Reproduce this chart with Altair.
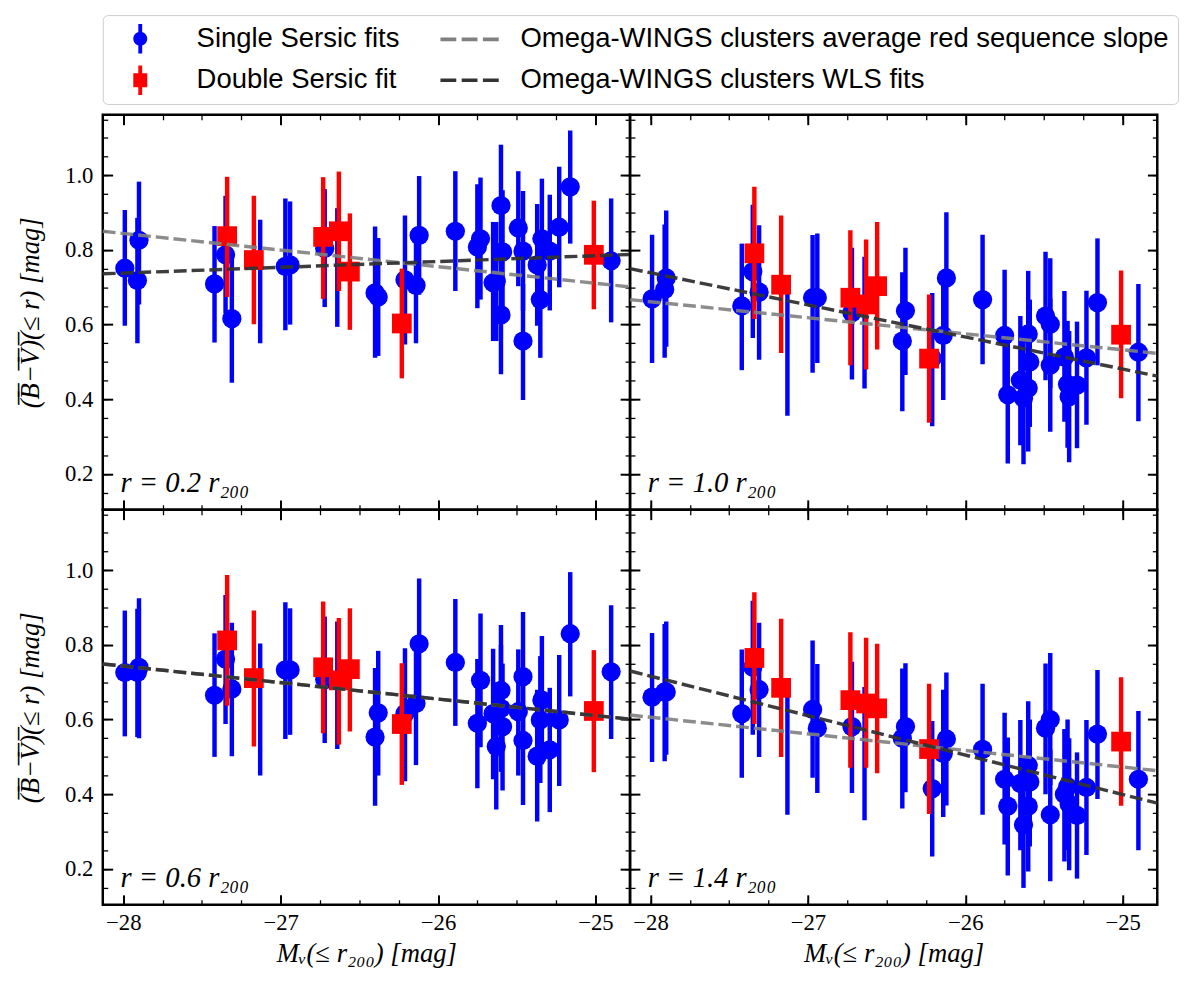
import altair as alt
import pandas as pd

# ---------------- data ----------------
gal_x = [-27.99, -27.90, -27.91, -27.42, -27.35, -27.31, -27.13, -26.97, -26.94, -26.72,
         -26.64, -26.40, -26.38, -26.21, -26.12, -26.14, -25.89, -25.75, -25.73, -25.65,
         -25.63, -25.60, -25.59, -25.60, -25.49, -25.46, -25.46, -25.37, -25.34, -25.35,
         -25.29, -25.23, -25.16, -24.90]

# r = 0.2 r200
tl_v = [0.751, 0.826, 0.718, 0.709, 0.787, 0.616, None, 0.756, 0.760, 0.804, None, 0.685, 0.674, 0.720,
        0.839, 0.705, 0.850, 0.808, 0.830, 0.712, 0.716, 0.919, 0.795, 0.626, 0.859, 0.797, 0.556,
        0.760, 0.830, 0.667, 0.797, 0.861, 0.969, 0.771]
tl_lo = [0.597, 0.654, 0.550, 0.552, 0.630, 0.444, 0.550, 0.585, 0.600, 0.647, 0.594, 0.511, 0.516, 0.547,
         0.680, 0.550, 0.690, 0.644, 0.667, 0.556, 0.556, 0.760, 0.630, 0.467, 0.703, 0.637, 0.398,
         0.597, 0.670, 0.511, 0.638, 0.700, 0.817, 0.606]
tl_hi = [0.907, 0.983, 0.886, 0.864, 0.945, 0.790, 0.881, 0.938, 0.930, 0.963, 0.912, 0.863, 0.832, 0.892,
         0.998, 0.860, 1.011, 0.976, 0.994, 0.875, 0.875, 1.082, 0.960, 0.785, 1.011, 0.958, 0.710,
         0.923, 0.991, 0.820, 0.948, 1.023, 1.120, 0.938]
# r = 1.0 r200
tr_v = [0.669, 0.725, 0.694, 0.650, 0.742, 0.687, None, 0.672, 0.672, 0.632, None, 0.556, 0.637, 0.510,
        0.725, 0.571, 0.667, 0.571, 0.412, 0.451, 0.403, 0.575, 0.500, 0.430, 0.623, 0.601, 0.491,
        0.513, 0.407, 0.440, 0.438, 0.511, 0.659, 0.526]
tr_lo = [0.497, 0.541, 0.511, 0.478, 0.564, 0.506, 0.356, 0.471, 0.497, 0.453, 0.429, 0.368, 0.465, 0.328,
         0.550, 0.398, 0.494, 0.396, 0.228, 0.277, 0.226, 0.405, 0.326, 0.260, 0.451, 0.430, 0.313,
         0.340, 0.231, 0.270, 0.269, 0.332, 0.491, 0.341]
tr_hi = [0.841, 0.906, 0.868, 0.817, 0.921, 0.866, 0.700, 0.840, 0.844, 0.806, 0.782, 0.740, 0.806, 0.685,
         0.901, 0.745, 0.841, 0.747, 0.590, 0.623, 0.580, 0.744, 0.667, 0.600, 0.795, 0.778, 0.670,
         0.690, 0.583, 0.610, 0.608, 0.691, 0.831, 0.709]
# r = 0.6 r200
bl_v = [0.726, 0.740, 0.726, 0.665, 0.762, 0.682, None, 0.733, 0.733, 0.707, None, 0.553, 0.618, 0.616,
        0.803, 0.643, 0.753, 0.590, 0.705, 0.616, 0.528, 0.678, 0.581, 0.630, 0.621, 0.715, 0.544,
        0.502, 0.652, 0.599, 0.519, 0.599, 0.830, 0.728]
bl_lo = [0.555, 0.550, 0.553, 0.500, 0.588, 0.502, 0.450, 0.548, 0.559, 0.537, 0.521, 0.369, 0.450, 0.435,
         0.630, 0.478, 0.583, 0.416, 0.526, 0.440, 0.359, 0.500, 0.410, 0.460, 0.450, 0.540, 0.371,
         0.327, 0.480, 0.430, 0.352, 0.422, 0.662, 0.548]
bl_hi = [0.892, 0.925, 0.897, 0.831, 0.934, 0.859, 0.804, 0.914, 0.898, 0.876, 0.863, 0.738, 0.784, 0.791,
         0.978, 0.810, 0.923, 0.762, 0.884, 0.790, 0.700, 0.853, 0.750, 0.800, 0.788, 0.888, 0.715,
         0.680, 0.824, 0.770, 0.685, 0.773, 0.995, 0.906]
# r = 1.4 r200
br_v = [0.660, 0.674, 0.674, 0.616, 0.740, 0.680, None, 0.627, 0.577, 0.581, None, 0.550, 0.581, 0.415,
        0.548, 0.509, 0.520, 0.440, 0.368, 0.429, 0.318, 0.477, 0.433, 0.368, 0.577, 0.600, 0.345,
        0.400, 0.374, 0.420, 0.343, 0.418, 0.561, 0.440]
br_lo = [0.486, 0.506, 0.488, 0.444, 0.559, 0.500, 0.345, 0.444, 0.403, 0.403, 0.330, 0.362, 0.405, 0.233,
         0.370, 0.339, 0.345, 0.265, 0.182, 0.250, 0.149, 0.300, 0.260, 0.193, 0.400, 0.425, 0.167,
         0.220, 0.196, 0.250, 0.174, 0.237, 0.387, 0.250]
br_hi = [0.832, 0.863, 0.856, 0.788, 0.918, 0.859, 0.680, 0.812, 0.749, 0.755, 0.687, 0.737, 0.751, 0.596,
         0.726, 0.680, 0.696, 0.618, 0.552, 0.599, 0.490, 0.649, 0.600, 0.540, 0.750, 0.778, 0.520,
         0.575, 0.550, 0.600, 0.512, 0.599, 0.733, 0.623]

red_x = [-27.34, -27.17, -26.73, -26.63, -26.56, -26.23, -25.01]
tl_rv = [0.837, 0.773, 0.835, 0.850, 0.742, 0.603, 0.787]
tl_rlo = [0.674, 0.601, 0.669, 0.690, 0.586, 0.456, 0.641]
tl_rhi = [0.996, 0.945, 0.995, 1.010, 0.898, 0.750, 0.932]
tr_rv = [0.791, 0.707, 0.672, 0.654, 0.703, 0.509, 0.573]
tr_rlo = [0.615, 0.524, 0.491, 0.480, 0.533, 0.337, 0.403]
tr_rhi = [0.969, 0.892, 0.853, 0.828, 0.875, 0.681, 0.745]
bl_rv = [0.812, 0.711, 0.740, 0.705, 0.735, 0.588, 0.623]
bl_rlo = [0.637, 0.528, 0.563, 0.533, 0.568, 0.425, 0.459]
bl_rhi = [0.987, 0.892, 0.916, 0.872, 0.898, 0.751, 0.786]
br_rv = [0.765, 0.685, 0.652, 0.643, 0.630, 0.521, 0.541]
br_rlo = [0.588, 0.500, 0.471, 0.471, 0.456, 0.347, 0.369]
br_rhi = [0.941, 0.870, 0.834, 0.819, 0.803, 0.696, 0.713]

# dashed fit lines, values at the two ends of the x range
line_x = [-28.13, -24.78]
tl_avg = [0.850, 0.701]
tl_wls = [0.736, 0.788]
tr_avg = [0.667, 0.523]
tr_wls = [0.750, 0.462]
bl_avg = [0.749, 0.601]
bl_wls = [0.749, 0.601]
br_avg = [0.612, 0.463]
br_wls = [0.730, 0.376]

panel_labels = ["r = 0.2 r₂₀₀", "r = 1.0 r₂₀₀", "r = 0.6 r₂₀₀", "r = 1.4 r₂₀₀"]
series = ["Single Sersic fits", "Omega-WINGS clusters average red sequence slope",
          "Double Sersic fit", "Omega-WINGS clusters WLS fits"]
x_major = [-28, -27, -26, -25]
y_major = [0.2, 0.4, 0.6, 0.8, 1.0]

# ---------------- style ----------------
BLUE, RED, GREY, DARK = "#0000ff", "#ff0000", "#808080", "#333333"
W, H = 534, 400
SERIF = "Liberation Serif"
xs = alt.Scale(domain=[-28.13, -24.78], nice=False, zero=False)
ys = alt.Scale(domain=[0.104, 1.162], nice=False, zero=False)
x_minor = [-28 + 0.25 * i for i in range(13)]
y_minor = [round(0.15 + 0.05 * i, 2) for i in range(21)]

x_title = "Mᵥ(≤ r₂₀₀) [mag]"
y_title = "".join(c + "\u0305" for c in "(B−V)") + "(≤ r) [mag]"

# legend glyphs (unit = 15 px); a zero-area point at x=-1 pins the left edge
PIN = "M-1,0 L-1,0 Z "
blue_path = (PIN + "M0.8,-1 L1.06,-1 L1.06,1 L0.8,1 Z "
             "M0.46,0 A0.47,0.47 0 1,1 1.40,0 A0.47,0.47 0 1,1 0.46,0 Z")
red_path = (PIN + "M0.8,-1 L1.06,-1 L1.06,1 L0.8,1 Z "
            "M0.46,-0.47 L1.40,-0.47 L1.40,0.47 L0.46,0.47 Z")
dash_path = (PIN + "M-0.667,-0.12 L0.4,-0.12 L0.4,0.12 L-0.667,0.12 Z "
             "M0.767,-0.12 L1.833,-0.12 L1.833,0.12 L0.767,0.12 Z "
             "M2.2,-0.12 L3.267,-0.12 L3.267,0.12 L2.2,0.12 Z")


def axis(orient, values, size, width, labels=False, title=None, fmt=None):
    kw = dict(orient=orient, values=values, tickSize=size, tickWidth=width, tickColor="black",
              offset=-size, domain=False, grid=False, labels=labels, title=title)
    if labels:
        kw.update(labelFont=SERIF, labelFontSize=23, labelColor="black",
                  labelPadding=7 if orient == "bottom" else 10, format=fmt)
    if title:
        kw.update(titleFont=SERIF, titleFontSize=27, titleFontWeight="normal",
                  titleFontStyle="italic", titleColor="black")
        kw.update(titlePadding=7 if orient == "bottom" else 20)
    return alt.Axis(**kw)


def panel(v, lo, hi, rv, rlo, rhi, avg, wls, label, xlab, ylab, with_legend=False):
    blue = pd.DataFrame({"x": gal_x, "v": v, "lo": lo, "hi": hi})
    red = pd.DataFrame({"x": red_x, "v": rv, "lo": rlo, "hi": rhi})
    lines = pd.DataFrame({"x": line_x + line_x, "y": avg + wls,
                          "fit": ["avg", "avg", "wls", "wls"]})
    txt = pd.DataFrame({"t": [label]})
    X = alt.X("x:Q", scale=xs, axis=None)

    layers = [
        alt.Chart(blue).mark_rule(color=BLUE, strokeWidth=4.5).encode(
            x=X, y=alt.Y("lo:Q", scale=ys, axis=None), y2="hi:Q"),
        alt.Chart(blue).mark_circle(color=BLUE, opacity=1, size=380).encode(
            x=X, y=alt.Y("v:Q", scale=ys, axis=None)),
        alt.Chart(red).mark_rule(color=RED, strokeWidth=4.5).encode(
            x=X, y=alt.Y("lo:Q", scale=ys, axis=None), y2="hi:Q"),
        alt.Chart(red).mark_square(color=RED, opacity=1, size=400).encode(
            x=X, y=alt.Y("v:Q", scale=ys, axis=None)),
        alt.Chart(lines).transform_filter("datum.fit == 'avg'").mark_line(
            color=GREY, strokeWidth=3.5, strokeDash=[13, 5], opacity=0.9).encode(
            x=X, y=alt.Y("y:Q", scale=ys, axis=None)),
        alt.Chart(lines).transform_filter("datum.fit == 'wls'").mark_line(
            color=DARK, strokeWidth=3.5, strokeDash=[13, 5], opacity=0.95).encode(
            x=X, y=alt.Y("y:Q", scale=ys, axis=None)),
        alt.Chart(txt).mark_text(align="left", baseline="alphabetic", font=SERIF,
                                 fontSize=29, fontStyle="italic", color="black").encode(
            x=alt.value(18), y=alt.value(382), text="t:N"),
    ]
    # axes: major + minor ticks on all four sides, pointing inward
    base = alt.Chart(blue).mark_point(opacity=0)
    yv = alt.Y("v:Q", scale=ys, axis=None)
    layers += [
        base.encode(x=alt.X("x:Q", scale=xs, axis=axis("bottom", x_major, 10, 2, xlab,
                                                         x_title if xlab else None, "d")), y=yv),
        base.encode(x=alt.X("x:Q", scale=xs, axis=axis("bottom", x_minor, 5, 1.3)), y=yv),
        base.encode(x=alt.X("x:Q", scale=xs, axis=axis("top", x_major, 10, 2)), y=yv),
        base.encode(x=alt.X("x:Q", scale=xs, axis=axis("top", x_minor, 5, 1.3)), y=yv),
        base.encode(y=alt.Y("v:Q", scale=ys, axis=axis("left", y_major, 10, 2, ylab,
                                                        y_title if ylab else None, ".1f")), x=X),
        base.encode(y=alt.Y("v:Q", scale=ys, axis=axis("left", y_minor, 5, 1.3)), x=X),
        base.encode(y=alt.Y("v:Q", scale=ys, axis=axis("right", y_major, 10, 2)), x=X),
        base.encode(y=alt.Y("v:Q", scale=ys, axis=axis("right", y_minor, 5, 1.3)), x=X),
    ]
    if with_legend:
        leg = alt.Legend(title=None, orient="top", columns=2, symbolSize=900, symbolStrokeWidth=0,
                         symbolOpacity=1, labelFont="Liberation Sans", labelFontSize=27.8,
                         labelColor="black", labelOffset=56, labelLimit=0, columnPadding=36,
                         rowPadding=12, padding=9, strokeColor="#cccccc", cornerRadius=5,
                         offset=8)
        ldf = pd.DataFrame({"series": series})
        layers.append(
            alt.Chart(ldf).transform_filter("false").mark_point(filled=True).encode(
                x=X, y=yv,
                color=alt.Color("series:N", scale=alt.Scale(domain=series,
                                                            range=[BLUE, GREY, RED, DARK]),
                                legend=leg),
                shape=alt.Shape("series:N", scale=alt.Scale(domain=series,
                                                            range=[blue_path, dash_path,
                                                                   red_path, dash_path]),
                                legend=leg)))
    return alt.layer(*layers).resolve_axis(x="independent", y="independent").properties(
        width=W, height=H)


tl = panel(tl_v, tl_lo, tl_hi, tl_rv, tl_rlo, tl_rhi, tl_avg, tl_wls, panel_labels[0], False, True, True)
tr = panel(tr_v, tr_lo, tr_hi, tr_rv, tr_rlo, tr_rhi, tr_avg, tr_wls, panel_labels[1], False, False)
bl = panel(bl_v, bl_lo, bl_hi, bl_rv, bl_rlo, bl_rhi, bl_avg, bl_wls, panel_labels[2], True, True)
br = panel(br_v, br_lo, br_hi, br_rv, br_rlo, br_rhi, br_avg, br_wls, panel_labels[3], True, False)

chart = alt.concat(tl, tr, bl, br, columns=2, spacing=0, bounds="flush"
                   ).configure_view(stroke="black", strokeWidth=2.5
                   ).properties(padding={"left": 8, "top": 0, "right": 0, "bottom": 0},
                                background="white")

chart.save("out.html", embed_options={"renderer": "svg", "actions": False})
